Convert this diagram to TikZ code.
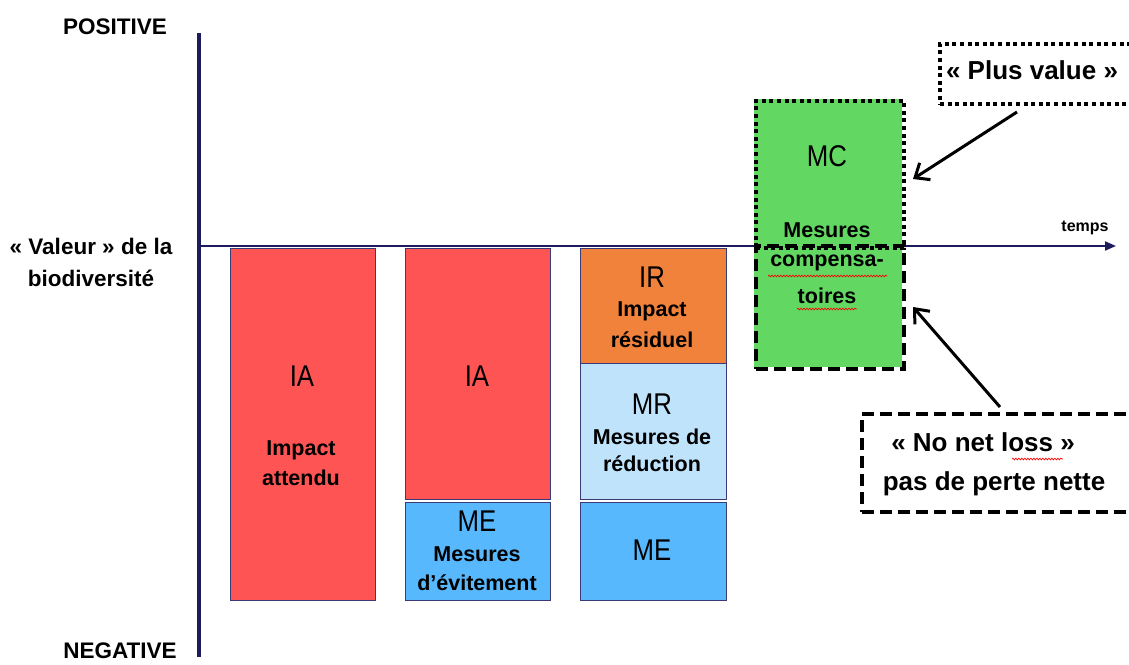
\documentclass[tikz,border=0pt]{standalone}
\usepackage{fontspec}
\setmainfont{Liberation Sans}
\newfontfamily\narrowf{Liberation Sans}[FakeStretch=0.86]
\usetikzlibrary{arrows.meta,decorations.pathmorphing}
\definecolor{cred}{HTML}{FF5454}
\definecolor{corange}{HTML}{F0823C}
\definecolor{clight}{HTML}{BFE3FB}
\definecolor{cblue}{HTML}{58B8FE}
\definecolor{cgreen}{HTML}{62D862}
\definecolor{navy}{HTML}{1C1C5C}
\definecolor{boxline}{HTML}{3A3A78}
\begin{document}
\begin{tikzpicture}[x=1pt,y=-1pt,
  box/.style={draw=boxline, line width=0.9pt, anchor=north west, inner sep=0pt, outer sep=0pt},
  dotbox/.style={draw=black, line width=4pt, dash pattern=on 4pt off 3.6pt, anchor=north west, inner sep=0pt},
  dashbox/.style={draw=black, line width=4pt, dash pattern=on 12pt off 6pt, anchor=north west, inner sep=0pt},
  bigf/.style={font=\narrowf\fontsize{30}{32}\selectfont, inner sep=0pt},
  medf/.style={font=\fontsize{21.5}{23}\selectfont\bfseries, inner sep=0pt},
  axf/.style={font=\fontsize{22.5}{25}\selectfont\bfseries, inner sep=0pt},
  labf/.style={font=\fontsize{26}{28}\selectfont\bfseries, inner sep=0pt},
  arr/.style={line width=3pt, -{Straight Barb[length=12pt,width=20pt,line width=3pt]}},
  spell/.style={draw=red, line width=0.7pt, decorate, decoration={snake, amplitude=0.8pt, segment length=3pt}}
]
\useasboundingbox (0,0) rectangle (1129,664);
\clip (0,0) rectangle (1129,664);
\fill[white] (0,0) rectangle (1129,664);

% axes
\coordinate (vtop) at (199,33);
\coordinate (vbot) at (199,657);
\coordinate (hleft) at (199,246);
\coordinate (hright) at (1116,246);
\draw[navy, line width=4pt] (vtop) -- (vbot);
\draw[navy, line width=2pt, -{Triangle[length=11pt,width=9pt]}] (hleft) -- (hright);

% axis labels
\node[axf] (pos) at (115,27) {POSITIVE};
\node[axf] (neg) at (120,651) {NEGATIVE};
\node[axf] (val1) at (91,246) {« Valeur » de la};
\node[axf] (val2) at (91,278) {biodiversité};
\node[font=\fontsize{16}{18}\selectfont\bfseries, inner sep=0pt] (temps) at (1085,228) {temps};

% column 1
\node[box, fill=cred, minimum width=145pt, minimum height=352pt] (ia1) at (230,248) {};
\node[bigf] (ia1t) at (302,376) {IA};
\node[medf] (ia1a) at (301,450) {Impact};
\node[medf] (ia1b) at (301,478) {attendu};

% column 2
\node[box, fill=cred, minimum width=145pt, minimum height=251pt] (ia2) at (405,248) {};
\node[bigf] (ia2t) at (477,376) {IA};
\node[box, fill=cblue, minimum width=145pt, minimum height=98pt] (me2) at (405,502) {};
\node[bigf] (me2t) at (477,521) {ME};
\node[medf] (me2a) at (477,554) {Mesures};
\node[medf] (me2b) at (477,583) {d’évitement};

% column 3
\node[box, fill=corange, minimum width=146pt, minimum height=115pt] (ir) at (580,248) {};
\node[bigf] (irt) at (652,277) {IR};
\node[medf] (ira) at (652,311) {Impact};
\node[medf] (irb) at (652,340) {résiduel};
\node[box, fill=clight, minimum width=146pt, minimum height=136pt] (mr) at (580,363) {};
\node[bigf] (mrt) at (652,404) {MR};
\node[medf] (mra) at (652,437) {Mesures de};
\node[medf] (mrb) at (652,464) {réduction};
\node[box, fill=cblue, minimum width=146pt, minimum height=98pt] (me3) at (580,502) {};
\node[bigf] (me3t) at (652,550) {ME};

% MC column
\fill[cgreen] (754,99) rectangle (902,367);
\node[dotbox, minimum width=148pt, minimum height=147pt] (mctop) at (754,99) {};
\node[dashbox, minimum width=148pt, minimum height=123pt] (mcbot) at (754,244) {};
\node[bigf] (mct) at (827,156) {MC};
\node[medf] (mca) at (827,230) {Mesures};
\node[medf] (mcb) at (827,263) {compensa-};
\node[medf] (mcc) at (827,296) {toires};
\draw[spell] (768,276) -- (887,276);
\draw[spell] (797,309) -- (857,309);

% Plus value
\node[dotbox, minimum width=210pt, minimum height=60pt] (pv) at (938,42) {};
\node[labf] (pvt) at (1032,70) {« Plus value »};
\coordinate (pvtail) at (1017,112);
\coordinate (pvhead) at (913,179);
\draw[arr] (pvtail) -- (pvhead);

% No net loss
\node[dashbox, minimum width=290pt, minimum height=98pt] (nnl) at (860,412) {};
\node[labf] (nnla) at (983,442) {« No net loss »};
\node[labf] (nnlb) at (994,484) {pas de perte nette};
\draw[spell] (1012,459) -- (1063,459);
\coordinate (nnltail) at (1000,407);
\coordinate (nnlhead) at (913,307);
\draw[arr] (nnltail) -- (nnlhead);
\end{tikzpicture}
\end{document}
